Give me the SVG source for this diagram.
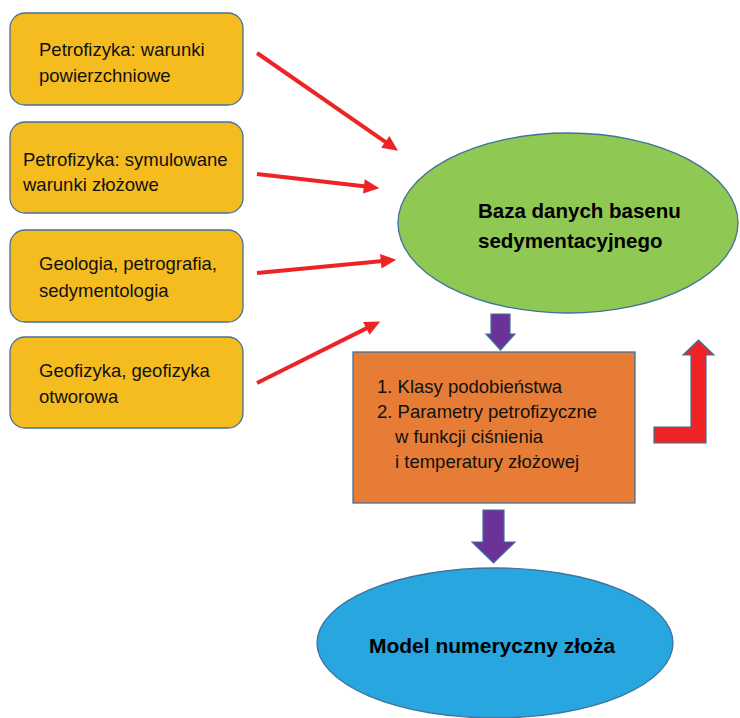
<svg xmlns="http://www.w3.org/2000/svg" width="740" height="718" viewBox="0 0 740 718">
<defs>
<style>
.src{fill:#F5BC1F;stroke:#41719C;stroke-width:1.3}
.t{font-family:"Liberation Sans",Arial,sans-serif;font-size:18.5px;fill:#111}
.b{font-family:"Liberation Sans",Arial,sans-serif;font-weight:bold;fill:#000}
.red{stroke:#EE2326;stroke-width:4;fill:none}
.blk{stroke:#41719C;stroke-width:1.2}
</style>
<marker id="ah" markerUnits="userSpaceOnUse" markerWidth="20" markerHeight="20" viewBox="-2 -8 18 16" refX="2" refY="0" orient="auto">
<path d="M0,-6.5 L14,0 L0,6.5 z" fill="#EE2326"/>
</marker>
</defs>
<rect width="740" height="718" fill="#fff"/>
<g id="n1"><rect class="src" x="10" y="13" width="233" height="92" rx="15"/>
<text class="t" x="39" y="56">Petrofizyka: warunki</text><text class="t" x="39" y="82">powierzchniowe</text></g>
<g id="n2"><rect class="src" x="10" y="122" width="233" height="91" rx="15"/>
<text class="t" x="23" y="166">Petrofizyka: symulowane</text><text class="t" x="23" y="191">warunki złożowe</text></g>
<g id="n3"><rect class="src" x="10" y="230" width="233" height="92" rx="15"/>
<text class="t" x="39" y="270">Geologia, petrografia,</text><text class="t" x="39" y="297">sedymentologia</text></g>
<g id="n4"><rect class="src" x="10" y="337" width="233" height="91" rx="15"/>
<text class="t" x="39" y="377">Geofizyka, geofizyka</text><text class="t" x="39" y="403">otworowa</text></g>
<g id="db"><ellipse cx="568" cy="223" rx="170" ry="90" fill="#8FC853" stroke="#41719C" stroke-width="1.3"/>
<text class="b" font-size="20.5" x="478" y="218">Baza danych basenu</text><text class="b" font-size="20.5" x="478" y="248">sedymentacyjnego</text></g>
<g id="proc"><rect x="353" y="352" width="282" height="151" fill="#E67C35" stroke="#41719C" stroke-width="1.3"/>
<text class="t" x="377" y="393">1. Klasy podobieństwa</text>
<text class="t" x="377" y="418">2. Parametry petrofizyczne</text>
<text class="t" x="395" y="443">w funkcji ciśnienia</text>
<text class="t" x="395" y="468">i temperatury złożowej</text></g>
<g id="model"><ellipse cx="495" cy="643" rx="178" ry="75" fill="#27A6DF" stroke="#41719C" stroke-width="1.3"/>
<text class="b" font-size="21" x="492" y="653" text-anchor="middle">Model numeryczny złoża</text></g>
<g id="connectors">
<line class="red" x1="257" y1="53" x2="387.1" y2="143.2" marker-end="url(#ah)"/>
<line class="red" x1="257" y1="174" x2="366.1" y2="186.6" marker-end="url(#ah)"/>
<line class="red" x1="257" y1="273" x2="383" y2="261.1" marker-end="url(#ah)"/>
<line class="red" x1="257" y1="383" x2="368.3" y2="327.4" marker-end="url(#ah)"/>
<polygon class="blk" fill="#6B3297" points="491,314 510,314 510,334 515,334 500.5,350 486,334 491,334"/>
<polygon class="blk" fill="#6B3297" points="483,510 504,510 504,542 515,542 493.5,563 472,542 483,542"/>
<polygon class="blk" fill="#EE2326" points="654,427 691,427 691,355 683,355 698.5,340 714,355 706,355 706,443 654,443"/>
</g>
</svg>
